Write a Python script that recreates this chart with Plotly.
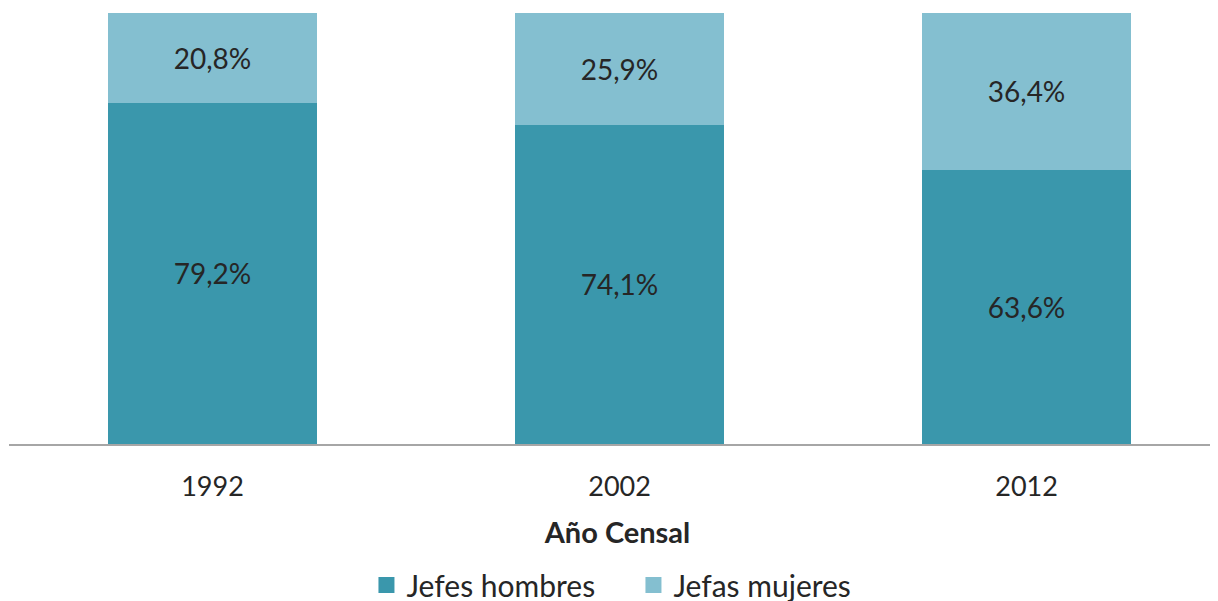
import plotly.graph_objects as go

years = ["1992", "2002", "2012"]
hombres = [79.2, 74.1, 63.6]
mujeres = [20.8, 25.9, 36.4]
hombres_labels = ["79,2%", "74,1%", "63,6%"]
mujeres_labels = ["20,8%", "25,9%", "36,4%"]

FONT = "Lato"
TXT = "#262626"
C_H = "#3A97AC"
C_M = "#84BFD0"

fig = go.Figure()
fig.add_trace(go.Bar(
    x=years, y=hombres, name="Jefes hombres", showlegend=False,
    marker=dict(color=C_H, line=dict(width=0)),
    text=hombres_labels, textposition="inside", insidetextanchor="middle",
    textfont=dict(family=FONT, size=28, color=TXT), width=0.514, textangle=0,
))
fig.add_trace(go.Bar(
    x=years, y=mujeres, name="Jefas mujeres", showlegend=False,
    marker=dict(color=C_M, line=dict(width=0)),
    text=mujeres_labels, textposition="inside", insidetextanchor="middle",
    textfont=dict(family=FONT, size=28, color=TXT), width=0.514, textangle=0,
))
# legend entries with larger square symbols
for nm, col in [("Jefes hombres", C_H), ("Jefas mujeres", C_M)]:
    fig.add_trace(go.Scatter(
        x=[None], y=[None], mode="markers", name=nm,
        marker=dict(symbol="square", size=17, color=col),
    ))

fig.update_layout(
    barmode="stack",
    width=1218, height=601,
    margin=dict(l=1, r=0, t=5, b=165),
    paper_bgcolor="white", plot_bgcolor="white",
    font=dict(family=FONT, size=26, color=TXT),
    uniformtext=dict(mode=False),
    showlegend=True,
    legend=dict(orientation="h", xref="container", x=0.2943, xanchor="left",
                yref="container", y=0.04, yanchor="middle",
                font=dict(family=FONT, size=30, color=TXT), traceorder="normal",
                itemwidth=30, entrywidth=222, entrywidthmode="pixels"),
    xaxis=dict(
        type="category", range=[-0.5, 2.49],
        showline=True, linecolor="#A6A6A6", linewidth=2,
        showgrid=False, ticks="", ticklabelstandoff=18,
        tickfont=dict(family=FONT, size=27, color=TXT),
        title=dict(text="<b>Año Censal</b>", font=dict(family=FONT, size=29, color=TXT), standoff=21),
    ),
    yaxis=dict(range=[0, 100], visible=False, showgrid=False, zeroline=False),
)

fig.write_html("out.html")
